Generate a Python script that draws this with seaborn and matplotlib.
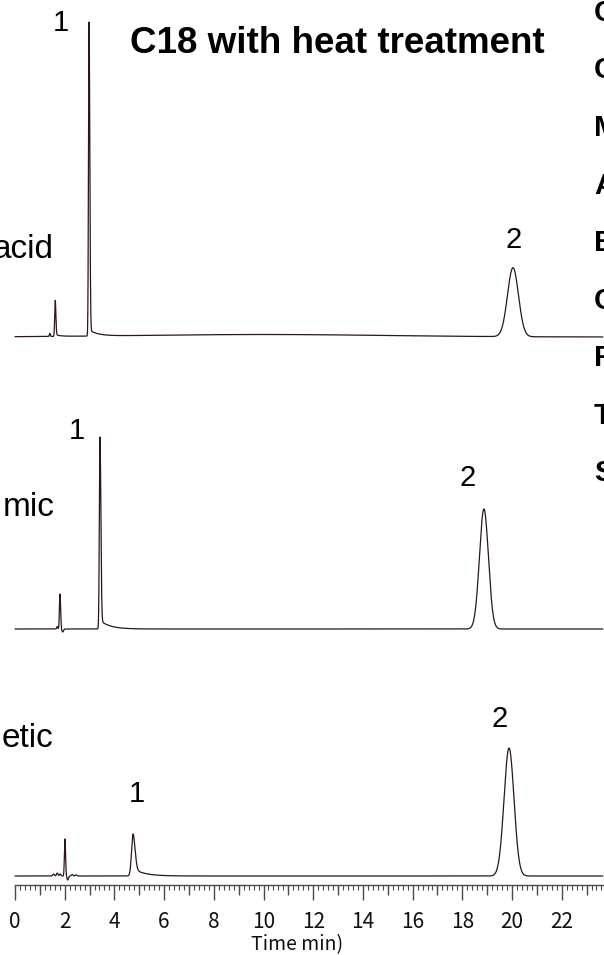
import numpy as np
import pandas as pd
import matplotlib
matplotlib.use("Agg")
import matplotlib.pyplot as plt
from matplotlib.ticker import FixedLocator
import seaborn as sns

# ---- chromatogram peak tables (time in min, height in detector units) ----
# columns: retention time, height, rising sigma, falling sigma, tail fraction, tail tau
acid_rt     = [1.40, 1.62, 2.98, 10.0, 20.04]
acid_h      = [3.0, 36.0, 314.0, 2.5, 69.0]
acid_sl     = [0.02, 0.022, 0.022, 5.0, 0.22]
acid_sr     = [0.02, 0.025, 0.030, 5.0, 0.22]
acid_tail   = [0.0, 0.05, 0.02, 0.0, 0.0]
acid_tau    = [0.3, 0.2, 0.35, 1.0, 1.0]

formic_rt   = [1.70, 1.81, 1.92, 3.42, 18.87]
formic_h    = [2.5, 35.0, -3.0, 192.0, 120.0]
formic_sl   = [0.02, 0.022, 0.03, 0.025, 0.18]
formic_sr   = [0.02, 0.025, 0.03, 0.035, 0.18]
formic_tail = [0.0, 0.0, 0.0, 0.045, 0.0]
formic_tau  = [0.3, 0.3, 0.3, 0.40, 1.0]

acetic_rt   = [1.55, 1.70, 1.82, 2.01, 2.12, 2.30, 2.45, 4.75, 19.88]
acetic_h    = [2.0, 3.0, 2.0, 37.0, -4.0, 1.5, 1.2, 42.0, 128.0]
acetic_sl   = [0.03, 0.03, 0.03, 0.022, 0.03, 0.03, 0.03, 0.06, 0.20]
acetic_sr   = [0.03, 0.03, 0.03, 0.025, 0.03, 0.03, 0.03, 0.08, 0.20]
acetic_tail = [0.0, 0.0, 0.0, 0.0, 0.0, 0.0, 0.0, 0.18, 0.0]
acetic_tau  = [0.3, 0.3, 0.3, 0.3, 0.3, 0.3, 0.3, 0.45, 1.0]

sample_names = ["acid", "mic", "etic"]
peak_numbers = ["1", "2"]
cond_initials = ["C", "C", "M", "A", "E", "C", "F", "T", "S"]
title_text = "C18 with heat treatment"
xlabel_text = "Time min)"
major_ticks = list(range(0, 23, 2))

# ---- figure geometry (pixels) ----
W, H = 604, 955
DPI = 100
X0_PX, PX_PER_MIN = 15.0, 24.85
AXIS_Y_PX = 885.0
T_END = (W - X0_PX) / PX_PER_MIN


def trace(t, rt, h, sl, sr, tail, tau):
    y = np.zeros_like(t)
    for r, a, s1, s2, f, k in zip(rt, h, sl, sr, tail, tau):
        d = t - r
        left = np.exp(-d ** 2 / (2 * s1 ** 2))
        right = (1 - f) * np.exp(-d ** 2 / (2 * s2 ** 2)) + f * np.exp(-np.clip(d, 0, None) / k)
        y += a * np.where(d < 0, left, right)
    return y


def fx(px):
    return px / W


def fy(py):
    return 1 - py / H


sns.set_theme(style="white")
plt.rcParams["font.family"] = ["Liberation Sans", "DejaVu Sans"]
axis_font = ["Noto Sans CJK JP", "DejaVu Sans"]

fig = plt.figure(figsize=(W / DPI, H / DPI), dpi=DPI)
ax = fig.add_axes([0, (H - AXIS_Y_PX) / H, 1, AXIS_Y_PX / H])
ax.set_xlim(-X0_PX / PX_PER_MIN, T_END)
ax.set_ylim(0, AXIS_Y_PX)

t = np.linspace(0, T_END - 0.05, 12000)
traces = [
    (trace(t, acid_rt, acid_h, acid_sl, acid_sr, acid_tail, acid_tau), 548),
    (trace(t, formic_rt, formic_h, formic_sl, formic_sr, formic_tail, formic_tau), 256),
    (trace(t, acetic_rt, acetic_h, acetic_sl, acetic_sr, acetic_tail, acetic_tau), 9),
]
line_color = "#2b1717"
for (sig, base), name in zip(traces, sample_names):
    df = pd.DataFrame({"time": t, "signal": sig + base})
    sns.lineplot(data=df, x="time", y="signal", ax=ax, color=line_color,
                 linewidth=0.9, estimator=None, sort=False)

ax.set_ylabel("")
ax.set_xlabel("")
ax.set_yticks([])
for side in ("left", "right", "top"):
    ax.spines[side].set_visible(False)
axis_color = "#4a4a4a"
ax.spines["bottom"].set_bounds(0, T_END)
ax.spines["bottom"].set_color(axis_color)
ax.spines["bottom"].set_linewidth(1.0)

ax.xaxis.set_major_locator(FixedLocator(major_ticks))
ax.xaxis.set_minor_locator(FixedLocator(np.round(np.arange(0, T_END, 0.2), 2)))
ax.tick_params(axis="x", which="major", bottom=True, direction="out", length=11,
               width=1.0, color=axis_color, pad=8, labelsize=15, labelcolor="#111111")
ax.tick_params(axis="x", which="minor", bottom=True, direction="out", length=3.5,
               width=0.8, color=axis_color)
for lab in ax.get_xticklabels():
    lab.set_family(axis_font)

sec = ax.secondary_xaxis("bottom")
sec.xaxis.set_major_locator(FixedLocator(list(range(1, 24, 2))))
sec.tick_params(axis="x", which="major", direction="out", length=7, width=1.0,
                color=axis_color, labelbottom=False)
sec.spines["bottom"].set_visible(False)

# axis title under the tick labels
fig.text(fx(297), fy(945), xlabel_text, ha="center", va="center", fontsize=14,
         family=axis_font, color="#111111")

# peak numbers
label_pos = [(1.85, 862, "1"), (2.49, 454, "1"), (4.91, 91, "1"),
             (20.08, 645, "2"), (18.23, 407, "2"), (19.52, 166, "2")]
for x, y, s in label_pos:
    ax.text(x, y, s, ha="center", va="center", fontsize=21, color="black")

fig.text(fx(130), fy(43), title_text, ha="left", va="center", fontsize=26.5,
         weight="bold", color="black")

for name, (xr, yc) in zip(sample_names, [(54, 250), (55, 508), (53, 738)]):
    fig.text(fx(xr), fy(yc), name, ha="right", va="center", fontsize=24, color="black")

for i, ch in enumerate(cond_initials):
    fig.text(fx(594), fy(13 + 57.5 * i), ch, ha="left", va="center", fontsize=21,
             weight="bold", color="black")

fig.savefig("out.png", dpi=DPI, facecolor="white")
